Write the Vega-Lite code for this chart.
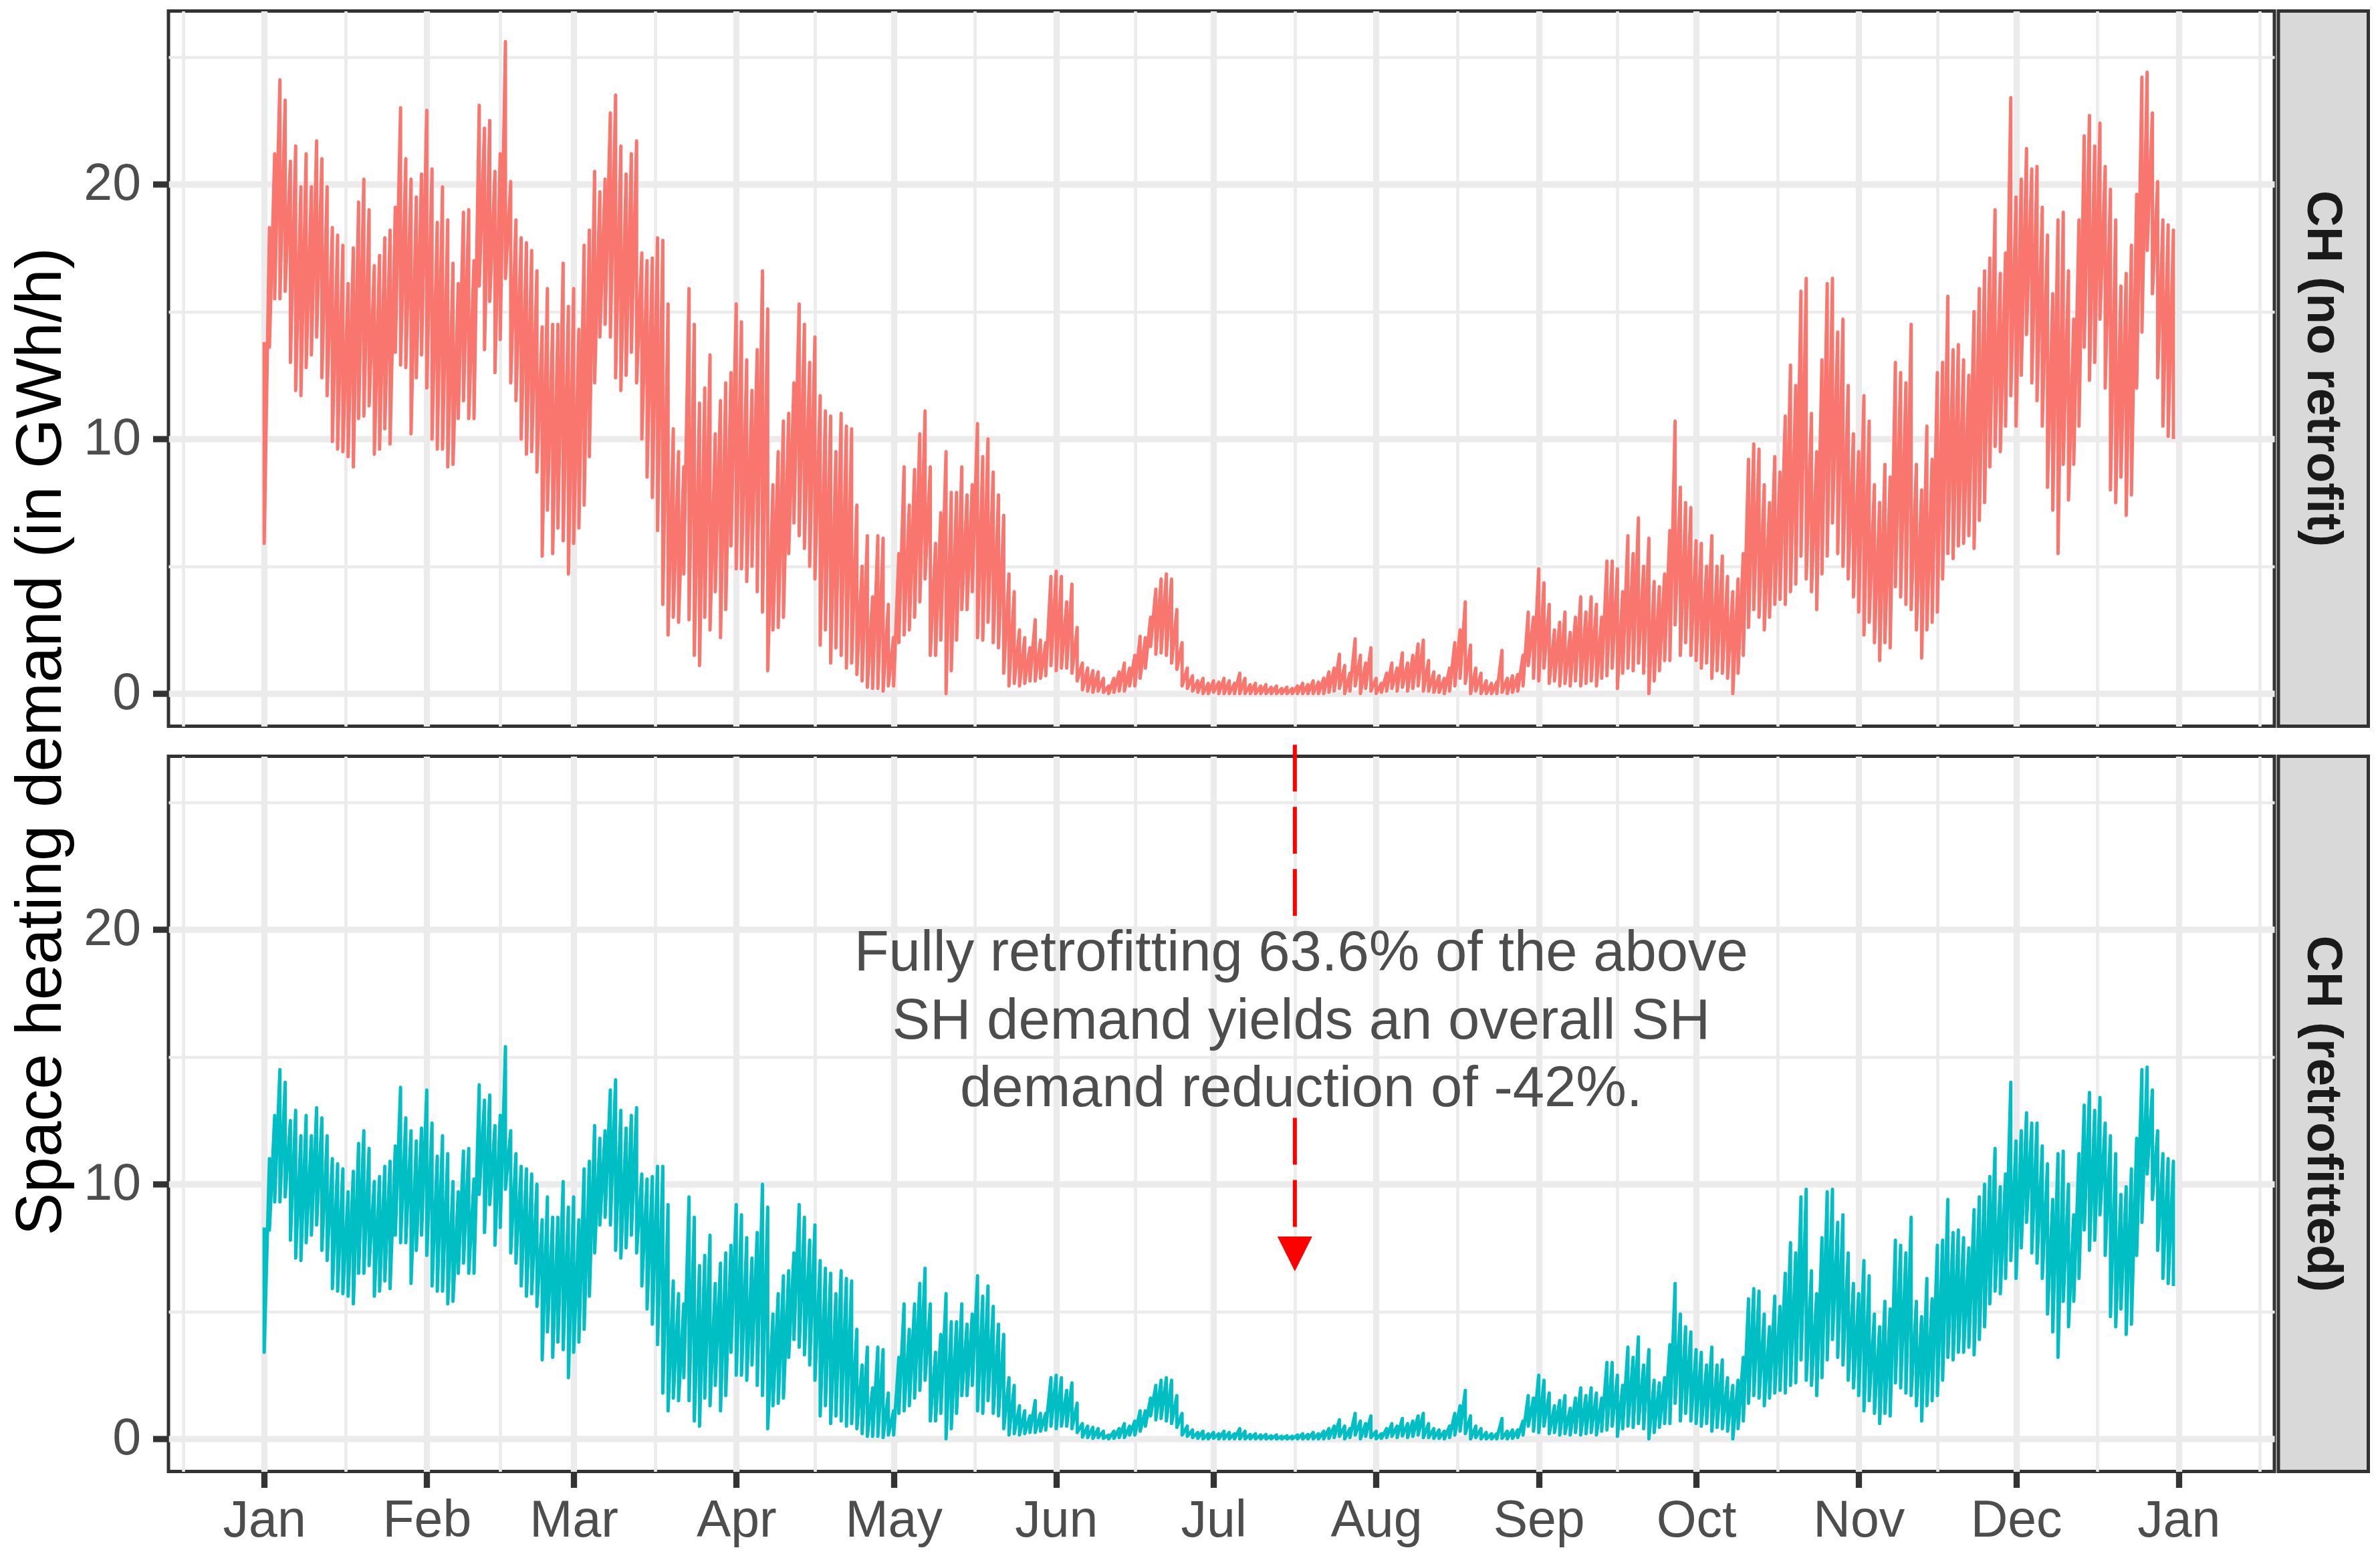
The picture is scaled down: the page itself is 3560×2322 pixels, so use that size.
{
  "$schema": "https://vega.github.io/schema/vega-lite/v6.json",
  "background": "white",
  "padding": {"left": 11, "top": 13.5, "right": 5, "bottom": 5},
  "config": {
    "font": "Liberation Sans",
    "view": {"stroke": null},
    "axis": {"labelFont": "Liberation Sans", "titleFont": "Liberation Sans"}
  },
  "datasets": {
    "sh": [
      {"d":0,"ah":13.8,"al":5.9,"bh":8.3,"bl":3.4},
      {"d":1,"ah":18.3,"al":13.6,"bh":11,"bl":8.2},
      {"d":2,"ah":21.2,"al":15.5,"bh":12.7,"bl":9.3},
      {"d":3,"ah":24.1,"al":15.5,"bh":14.5,"bl":9.3},
      {"d":4,"ah":23.3,"al":15.8,"bh":14,"bl":9.5},
      {"d":5,"ah":20.9,"al":13,"bh":12.5,"bl":7.8},
      {"d":6,"ah":21.5,"al":11.9,"bh":12.9,"bl":7.1},
      {"d":7,"ah":19.9,"al":11.7,"bh":11.9,"bl":7},
      {"d":8,"ah":21.2,"al":12.8,"bh":12.7,"bl":7.7},
      {"d":9,"ah":19.9,"al":13.3,"bh":11.9,"bl":8},
      {"d":10,"ah":21.7,"al":14,"bh":13,"bl":8.4},
      {"d":11,"ah":21,"al":12.4,"bh":12.6,"bl":7.4},
      {"d":12,"ah":19.9,"al":11.7,"bh":11.9,"bl":7},
      {"d":13,"ah":18.3,"al":9.9,"bh":11,"bl":5.9},
      {"d":14,"ah":18,"al":9.6,"bh":10.8,"bl":5.8},
      {"d":15,"ah":17.6,"al":9.5,"bh":10.6,"bl":5.7},
      {"d":16,"ah":16.1,"al":9.3,"bh":9.7,"bl":5.6},
      {"d":17,"ah":17.5,"al":8.9,"bh":10.5,"bl":5.3},
      {"d":18,"ah":19.3,"al":10.8,"bh":11.6,"bl":6.5},
      {"d":19,"ah":20.2,"al":10.9,"bh":12.1,"bl":6.5},
      {"d":20,"ah":19,"al":11.3,"bh":11.4,"bl":6.8},
      {"d":21,"ah":16.8,"al":9.4,"bh":10.1,"bl":5.6},
      {"d":22,"ah":17.2,"al":9.6,"bh":10.3,"bl":5.8},
      {"d":23,"ah":17.9,"al":10.4,"bh":10.7,"bl":6.2},
      {"d":24,"ah":18.2,"al":9.8,"bh":10.9,"bl":5.9},
      {"d":25,"ah":19.1,"al":13.4,"bh":11.5,"bl":8},
      {"d":26,"ah":23,"al":12.9,"bh":13.8,"bl":7.7},
      {"d":27,"ah":21,"al":12.8,"bh":12.6,"bl":7.7},
      {"d":28,"ah":20.2,"al":10.2,"bh":12.1,"bl":6.1},
      {"d":29,"ah":19.5,"al":12.4,"bh":11.7,"bl":7.4},
      {"d":30,"ah":20.4,"al":13.3,"bh":12.2,"bl":8},
      {"d":31,"ah":22.9,"al":12,"bh":13.7,"bl":7.2},
      {"d":32,"ah":20.6,"al":10,"bh":12.4,"bl":6},
      {"d":33,"ah":18.5,"al":9.6,"bh":11.1,"bl":5.8},
      {"d":34,"ah":19.9,"al":9.6,"bh":11.9,"bl":5.8},
      {"d":35,"ah":18.6,"al":8.9,"bh":11.2,"bl":5.3},
      {"d":36,"ah":16.9,"al":9,"bh":10.1,"bl":5.4},
      {"d":37,"ah":16.1,"al":10.8,"bh":9.7,"bl":6.5},
      {"d":38,"ah":18.9,"al":11.5,"bh":11.3,"bl":6.9},
      {"d":39,"ah":19,"al":10.8,"bh":11.4,"bl":6.5},
      {"d":40,"ah":17,"al":10.8,"bh":10.2,"bl":6.5},
      {"d":41,"ah":23.1,"al":16,"bh":13.9,"bl":9.6},
      {"d":42,"ah":22.2,"al":13.5,"bh":13.3,"bl":8.1},
      {"d":43,"ah":22.5,"al":15.4,"bh":13.5,"bl":9.2},
      {"d":44,"ah":20.5,"al":12.6,"bh":12.3,"bl":7.6},
      {"d":45,"ah":21.2,"al":13.9,"bh":12.7,"bl":8.3},
      {"d":46,"ah":25.6,"al":16.3,"bh":15.4,"bl":9.8},
      {"d":47,"ah":20.1,"al":12.2,"bh":12.1,"bl":7.3},
      {"d":48,"ah":18.6,"al":11.5,"bh":11.2,"bl":6.9},
      {"d":49,"ah":17.9,"al":10,"bh":10.7,"bl":6},
      {"d":50,"ah":17.7,"al":9.4,"bh":10.6,"bl":5.6},
      {"d":51,"ah":17.4,"al":9.5,"bh":10.4,"bl":5.7},
      {"d":52,"ah":16.6,"al":8.7,"bh":10,"bl":5.2},
      {"d":53,"ah":14.4,"al":5.4,"bh":8.6,"bl":3.1},
      {"d":54,"ah":15.9,"al":7.2,"bh":9.5,"bl":4.2},
      {"d":55,"ah":14.5,"al":5.5,"bh":8.7,"bl":3.2},
      {"d":56,"ah":14.5,"al":6.5,"bh":8.7,"bl":3.8},
      {"d":57,"ah":16.9,"al":6,"bh":10.1,"bl":3.5},
      {"d":58,"ah":15.2,"al":4.7,"bh":9.1,"bl":2.4},
      {"d":59,"ah":15.9,"al":5.9,"bh":9.5,"bl":3.4},
      {"d":60,"ah":14.3,"al":6.5,"bh":8.6,"bl":3.8},
      {"d":61,"ah":17.6,"al":7.4,"bh":10.6,"bl":4.3},
      {"d":62,"ah":18.2,"al":9.3,"bh":10.9,"bl":5.6},
      {"d":63,"ah":20.5,"al":12.2,"bh":12.3,"bl":7.3},
      {"d":64,"ah":19.7,"al":14,"bh":11.8,"bl":8.4},
      {"d":65,"ah":20.2,"al":14.5,"bh":12.1,"bl":8.7},
      {"d":66,"ah":22.8,"al":14,"bh":13.7,"bl":8.4},
      {"d":67,"ah":23.5,"al":12.4,"bh":14.1,"bl":7.4},
      {"d":68,"ah":21.5,"al":11.9,"bh":12.9,"bl":7.1},
      {"d":69,"ah":20.4,"al":12.5,"bh":12.2,"bl":7.5},
      {"d":70,"ah":21.2,"al":13.4,"bh":12.7,"bl":8},
      {"d":71,"ah":21.7,"al":12.2,"bh":13,"bl":7.3},
      {"d":72,"ah":17.3,"al":10,"bh":10.4,"bl":6},
      {"d":73,"ah":17,"al":8.5,"bh":10.2,"bl":5.1},
      {"d":74,"ah":17.1,"al":7.7,"bh":10.3,"bl":4.5},
      {"d":75,"ah":17.9,"al":6.4,"bh":10.7,"bl":3.7},
      {"d":76,"ah":17.8,"al":3.5,"bh":10.7,"bl":1.8},
      {"d":77,"ah":15.3,"al":2.3,"bh":9.2,"bl":1.1},
      {"d":78,"ah":10.4,"al":3,"bh":6.2,"bl":1.6},
      {"d":79,"ah":9.5,"al":2.8,"bh":5.7,"bl":1.5},
      {"d":80,"ah":8.9,"al":4.7,"bh":5.3,"bl":2.4},
      {"d":81,"ah":15.9,"al":2.9,"bh":9.5,"bl":1.5},
      {"d":82,"ah":14.5,"al":1.5,"bh":8.7,"bl":0.7},
      {"d":83,"ah":11.4,"al":1.1,"bh":6.8,"bl":0.5},
      {"d":84,"ah":12,"al":3,"bh":7.2,"bl":1.6},
      {"d":85,"ah":13.3,"al":2.5,"bh":8,"bl":1.3},
      {"d":86,"ah":10.2,"al":4,"bh":6.1,"bl":2.1},
      {"d":87,"ah":11.5,"al":2.2,"bh":6.9,"bl":1.1},
      {"d":88,"ah":12.2,"al":3.3,"bh":7.3,"bl":1.7},
      {"d":89,"ah":12.6,"al":5.8,"bh":7.6,"bl":3.4},
      {"d":90,"ah":15.3,"al":4.9,"bh":9.2,"bl":2.5},
      {"d":91,"ah":14.6,"al":4.9,"bh":8.8,"bl":2.5},
      {"d":92,"ah":13.1,"al":4.4,"bh":7.9,"bl":2.3},
      {"d":93,"ah":11.9,"al":5,"bh":7.1,"bl":2.9},
      {"d":94,"ah":13.5,"al":4,"bh":8.1,"bl":2.1},
      {"d":95,"ah":16.6,"al":3.2,"bh":10,"bl":1.7},
      {"d":96,"ah":15.1,"al":0.9,"bh":9.1,"bl":0.4},
      {"d":97,"ah":8.2,"al":2.5,"bh":4.9,"bl":1.3},
      {"d":98,"ah":9.5,"al":2.6,"bh":5.7,"bl":1.4},
      {"d":99,"ah":10.7,"al":3,"bh":6.4,"bl":1.6},
      {"d":100,"ah":11,"al":5.5,"bh":6.6,"bl":3.2},
      {"d":101,"ah":12.2,"al":6.7,"bh":7.3,"bl":3.9},
      {"d":102,"ah":15.3,"al":6.2,"bh":9.2,"bl":3.6},
      {"d":103,"ah":14.5,"al":5.7,"bh":8.7,"bl":3.3},
      {"d":104,"ah":13,"al":5,"bh":7.8,"bl":2.9},
      {"d":105,"ah":14,"al":4.5,"bh":8.4,"bl":2.3},
      {"d":106,"ah":11.7,"al":1.9,"bh":7,"bl":0.9},
      {"d":107,"ah":11.1,"al":2.5,"bh":6.7,"bl":1.3},
      {"d":108,"ah":10.9,"al":1.2,"bh":6.5,"bl":0.6},
      {"d":109,"ah":9.5,"al":1.8,"bh":5.7,"bl":0.9},
      {"d":110,"ah":11,"al":1.5,"bh":6.6,"bl":0.7},
      {"d":111,"ah":10.5,"al":1,"bh":6.3,"bl":0.5},
      {"d":112,"ah":10.4,"al":1.2,"bh":6.2,"bl":0.6},
      {"d":113,"ah":7.4,"al":0.75,"bh":4.3,"bl":0.4},
      {"d":114,"ah":5,"al":0.5,"bh":2.9,"bl":0.2},
      {"d":115,"ah":6.2,"al":0.25,"bh":3.6,"bl":0.1},
      {"d":116,"ah":3.8,"al":0.2,"bh":2,"bl":0.1},
      {"d":117,"ah":6.2,"al":0.2,"bh":3.6,"bl":0.1},
      {"d":118,"ah":6.1,"al":0.1,"bh":3.5,"bl":0.05},
      {"d":119,"ah":3.5,"al":0.3,"bh":1.8,"bl":0.15},
      {"d":120,"ah":2.2,"al":0.3,"bh":1.1,"bl":0.15},
      {"d":121,"ah":5.5,"al":2,"bh":3.2,"bl":1},
      {"d":122,"ah":8.9,"al":2.3,"bh":5.3,"bl":1.1},
      {"d":123,"ah":7.4,"al":2.5,"bh":4.3,"bl":1.3},
      {"d":124,"ah":8.8,"al":3,"bh":5.3,"bl":1.6},
      {"d":125,"ah":10.2,"al":3.6,"bh":6.1,"bl":1.9},
      {"d":126,"ah":11.1,"al":4.5,"bh":6.7,"bl":2.3},
      {"d":127,"ah":8.9,"al":1.5,"bh":5.3,"bl":0.7},
      {"d":128,"ah":5.9,"al":1.5,"bh":3.4,"bl":0.7},
      {"d":129,"ah":7.1,"al":2.1,"bh":4.1,"bl":1},
      {"d":130,"ah":9.5,"al":0,"bh":5.7,"bl":0},
      {"d":131,"ah":7.9,"al":0.9,"bh":4.6,"bl":0.4},
      {"d":132,"ah":7.9,"al":2.1,"bh":4.6,"bl":1},
      {"d":133,"ah":8.9,"al":3.3,"bh":5.3,"bl":1.7},
      {"d":134,"ah":7.8,"al":3.3,"bh":4.5,"bl":1.7},
      {"d":135,"ah":8.2,"al":4,"bh":4.9,"bl":2.1},
      {"d":136,"ah":10.6,"al":2.2,"bh":6.4,"bl":1.1},
      {"d":137,"ah":9.3,"al":2.1,"bh":5.6,"bl":1},
      {"d":138,"ah":10,"al":2.8,"bh":6,"bl":1.5},
      {"d":139,"ah":8.7,"al":2,"bh":5.2,"bl":1},
      {"d":140,"ah":7.8,"al":1.8,"bh":4.5,"bl":0.9},
      {"d":141,"ah":7,"al":0.8,"bh":4.1,"bl":0.4},
      {"d":142,"ah":4.7,"al":0.3,"bh":2.4,"bl":0.15},
      {"d":143,"ah":4,"al":0.4,"bh":2.1,"bl":0.2},
      {"d":144,"ah":2.5,"al":0.3,"bh":1.3,"bl":0.15},
      {"d":145,"ah":2.2,"al":0.4,"bh":1.1,"bl":0.2},
      {"d":146,"ah":1.8,"al":0.5,"bh":0.9,"bl":0.25},
      {"d":147,"ah":2.9,"al":0.5,"bh":1.5,"bl":0.25},
      {"d":148,"ah":2.1,"al":0.6,"bh":1,"bl":0.3},
      {"d":149,"ah":2,"al":0.7,"bh":1,"bl":0.35},
      {"d":150,"ah":4.6,"al":1.1,"bh":2.4,"bl":0.5},
      {"d":151,"ah":4.8,"al":0.9,"bh":2.5,"bl":0.4},
      {"d":152,"ah":4.6,"al":1,"bh":2.4,"bl":0.5},
      {"d":153,"ah":3.6,"al":1,"bh":1.9,"bl":0.5},
      {"d":154,"ah":4.3,"al":0.8,"bh":2.2,"bl":0.4},
      {"d":155,"ah":2.6,"al":0.5,"bh":1.4,"bl":0.25},
      {"d":156,"ah":1.2,"al":0.15,"bh":0.6,"bl":0.07},
      {"d":157,"ah":1,"al":0.1,"bh":0.5,"bl":0.05},
      {"d":158,"ah":0.9,"al":0.05,"bh":0.45,"bl":0.02},
      {"d":159,"ah":0.85,"al":0.1,"bh":0.4,"bl":0.05},
      {"d":160,"ah":0.6,"al":0.05,"bh":0.3,"bl":0.02},
      {"d":161,"ah":0.3,"al":0,"bh":0.15,"bl":0},
      {"d":162,"ah":0.6,"al":0.05,"bh":0.3,"bl":0.02},
      {"d":163,"ah":0.85,"al":0.1,"bh":0.4,"bl":0.05},
      {"d":164,"ah":1.2,"al":0.1,"bh":0.6,"bl":0.05},
      {"d":165,"ah":1,"al":0.3,"bh":0.5,"bl":0.15},
      {"d":166,"ah":1.5,"al":0.3,"bh":0.7,"bl":0.15},
      {"d":167,"ah":2.25,"al":0.6,"bh":1.1,"bl":0.3},
      {"d":168,"ah":2.2,"al":1,"bh":1.1,"bl":0.5},
      {"d":169,"ah":3,"al":1.85,"bh":1.6,"bl":0.9},
      {"d":170,"ah":4.1,"al":1.55,"bh":2.1,"bl":0.75},
      {"d":171,"ah":4.5,"al":1.6,"bh":2.3,"bl":0.8},
      {"d":172,"ah":4.7,"al":1.5,"bh":2.4,"bl":0.7},
      {"d":173,"ah":4.5,"al":1.2,"bh":2.3,"bl":0.6},
      {"d":174,"ah":3.3,"al":0.95,"bh":1.7,"bl":0.45},
      {"d":175,"ah":2,"al":0.3,"bh":1,"bl":0.15},
      {"d":176,"ah":1,"al":0.2,"bh":0.5,"bl":0.1},
      {"d":177,"ah":0.7,"al":0.1,"bh":0.35,"bl":0.05},
      {"d":178,"ah":0.5,"al":0.05,"bh":0.25,"bl":0.02},
      {"d":179,"ah":0.6,"al":0,"bh":0.3,"bl":0},
      {"d":180,"ah":0.4,"al":0,"bh":0.2,"bl":0},
      {"d":181,"ah":0.5,"al":0.05,"bh":0.25,"bl":0.02},
      {"d":182,"ah":0.45,"al":0,"bh":0.2,"bl":0},
      {"d":183,"ah":0.6,"al":0,"bh":0.3,"bl":0},
      {"d":184,"ah":0.5,"al":0,"bh":0.25,"bl":0},
      {"d":185,"ah":0.4,"al":0,"bh":0.2,"bl":0},
      {"d":186,"ah":0.8,"al":0,"bh":0.4,"bl":0},
      {"d":187,"ah":0.6,"al":0,"bh":0.3,"bl":0},
      {"d":188,"ah":0.35,"al":0,"bh":0.17,"bl":0},
      {"d":189,"ah":0.4,"al":0,"bh":0.2,"bl":0},
      {"d":190,"ah":0.3,"al":0,"bh":0.15,"bl":0},
      {"d":191,"ah":0.35,"al":0,"bh":0.17,"bl":0},
      {"d":192,"ah":0.25,"al":0,"bh":0.12,"bl":0},
      {"d":193,"ah":0.3,"al":0,"bh":0.15,"bl":0},
      {"d":194,"ah":0.2,"al":0,"bh":0.1,"bl":0},
      {"d":195,"ah":0.25,"al":0,"bh":0.12,"bl":0},
      {"d":196,"ah":0.2,"al":0,"bh":0.1,"bl":0},
      {"d":197,"ah":0.3,"al":0,"bh":0.15,"bl":0},
      {"d":198,"ah":0.4,"al":0,"bh":0.2,"bl":0},
      {"d":199,"ah":0.35,"al":0,"bh":0.17,"bl":0},
      {"d":200,"ah":0.5,"al":0,"bh":0.25,"bl":0},
      {"d":201,"ah":0.45,"al":0,"bh":0.2,"bl":0},
      {"d":202,"ah":0.6,"al":0,"bh":0.3,"bl":0},
      {"d":203,"ah":0.85,"al":0.05,"bh":0.4,"bl":0.02},
      {"d":204,"ah":1,"al":0.1,"bh":0.5,"bl":0.05},
      {"d":205,"ah":1.55,"al":0.2,"bh":0.75,"bl":0.1},
      {"d":206,"ah":1.1,"al":0,"bh":0.5,"bl":0},
      {"d":207,"ah":0.8,"al":0.1,"bh":0.4,"bl":0.05},
      {"d":208,"ah":2.15,"al":0.3,"bh":1,"bl":0.15},
      {"d":209,"ah":1.5,"al":0,"bh":0.7,"bl":0},
      {"d":210,"ah":1.2,"al":0.2,"bh":0.6,"bl":0.1},
      {"d":211,"ah":1.8,"al":0.1,"bh":0.9,"bl":0.05},
      {"d":212,"ah":0.6,"al":0,"bh":0.3,"bl":0},
      {"d":213,"ah":0.4,"al":0.05,"bh":0.2,"bl":0.02},
      {"d":214,"ah":0.8,"al":0.1,"bh":0.4,"bl":0.05},
      {"d":215,"ah":1.2,"al":0.2,"bh":0.6,"bl":0.1},
      {"d":216,"ah":1,"al":0.1,"bh":0.5,"bl":0.05},
      {"d":217,"ah":1.6,"al":0.25,"bh":0.8,"bl":0.12},
      {"d":218,"ah":1.2,"al":0.1,"bh":0.6,"bl":0.05},
      {"d":219,"ah":1.5,"al":0.2,"bh":0.7,"bl":0.1},
      {"d":220,"ah":1.95,"al":0.3,"bh":0.9,"bl":0.15},
      {"d":221,"ah":2.1,"al":0.1,"bh":1,"bl":0.05},
      {"d":222,"ah":1.3,"al":0.1,"bh":0.6,"bl":0.05},
      {"d":223,"ah":0.85,"al":0.05,"bh":0.4,"bl":0.02},
      {"d":224,"ah":0.7,"al":0.05,"bh":0.35,"bl":0.02},
      {"d":225,"ah":0.6,"al":0,"bh":0.3,"bl":0},
      {"d":226,"ah":1,"al":0.1,"bh":0.5,"bl":0.05},
      {"d":227,"ah":2,"al":0.3,"bh":1,"bl":0.15},
      {"d":228,"ah":2.5,"al":0.6,"bh":1.3,"bl":0.3},
      {"d":229,"ah":3.6,"al":0.4,"bh":1.9,"bl":0.2},
      {"d":230,"ah":1.9,"al":0,"bh":0.9,"bl":0},
      {"d":231,"ah":1,"al":0.1,"bh":0.5,"bl":0.05},
      {"d":232,"ah":0.8,"al":0,"bh":0.4,"bl":0},
      {"d":233,"ah":0.5,"al":0,"bh":0.25,"bl":0},
      {"d":234,"ah":0.4,"al":0,"bh":0.2,"bl":0},
      {"d":235,"ah":0.45,"al":0,"bh":0.2,"bl":0},
      {"d":236,"ah":1.7,"al":0.05,"bh":0.8,"bl":0.02},
      {"d":237,"ah":0.6,"al":0,"bh":0.3,"bl":0},
      {"d":238,"ah":0.7,"al":0.05,"bh":0.35,"bl":0.02},
      {"d":239,"ah":0.75,"al":0.1,"bh":0.35,"bl":0.05},
      {"d":240,"ah":1.5,"al":0.3,"bh":0.7,"bl":0.15},
      {"d":241,"ah":3.2,"al":1.1,"bh":1.7,"bl":0.5},
      {"d":242,"ah":3,"al":0.6,"bh":1.6,"bl":0.3},
      {"d":243,"ah":4.9,"al":0.5,"bh":2.5,"bl":0.25},
      {"d":244,"ah":4.35,"al":1,"bh":2.3,"bl":0.5},
      {"d":245,"ah":3.5,"al":0.4,"bh":1.8,"bl":0.2},
      {"d":246,"ah":2.5,"al":0.5,"bh":1.3,"bl":0.25},
      {"d":247,"ah":2.8,"al":0.3,"bh":1.5,"bl":0.15},
      {"d":248,"ah":3.2,"al":0.4,"bh":1.7,"bl":0.2},
      {"d":249,"ah":2.4,"al":0.3,"bh":1.2,"bl":0.15},
      {"d":250,"ah":3,"al":0.5,"bh":1.6,"bl":0.25},
      {"d":251,"ah":3.8,"al":0.3,"bh":2,"bl":0.15},
      {"d":252,"ah":3.2,"al":0.4,"bh":1.7,"bl":0.2},
      {"d":253,"ah":3.8,"al":0.5,"bh":2,"bl":0.25},
      {"d":254,"ah":3.5,"al":0.3,"bh":1.8,"bl":0.15},
      {"d":255,"ah":3,"al":0.6,"bh":1.6,"bl":0.3},
      {"d":256,"ah":5.2,"al":0.7,"bh":3,"bl":0.35},
      {"d":257,"ah":5.2,"al":1,"bh":3,"bl":0.5},
      {"d":258,"ah":4.9,"al":0.2,"bh":2.5,"bl":0.1},
      {"d":259,"ah":4,"al":0.8,"bh":2.1,"bl":0.4},
      {"d":260,"ah":6.2,"al":1,"bh":3.6,"bl":0.5},
      {"d":261,"ah":5.5,"al":0.9,"bh":3.2,"bl":0.45},
      {"d":262,"ah":6.9,"al":1.2,"bh":4,"bl":0.6},
      {"d":263,"ah":5,"al":0.8,"bh":2.9,"bl":0.4},
      {"d":264,"ah":6.1,"al":0,"bh":3.5,"bl":0},
      {"d":265,"ah":4.4,"al":0.5,"bh":2.3,"bl":0.25},
      {"d":266,"ah":4.2,"al":0.9,"bh":2.2,"bl":0.45},
      {"d":267,"ah":4.7,"al":1.3,"bh":2.4,"bl":0.6},
      {"d":268,"ah":6.4,"al":1.3,"bh":3.7,"bl":0.6},
      {"d":269,"ah":10.7,"al":2.7,"bh":6.1,"bl":1.4},
      {"d":270,"ah":8.1,"al":1.5,"bh":4.9,"bl":0.7},
      {"d":271,"ah":7.5,"al":2,"bh":4.4,"bl":1},
      {"d":272,"ah":7.3,"al":1.5,"bh":4.2,"bl":0.7},
      {"d":273,"ah":6,"al":1.3,"bh":3.5,"bl":0.6},
      {"d":274,"ah":5.9,"al":1,"bh":3.4,"bl":0.5},
      {"d":275,"ah":5,"al":1.2,"bh":2.9,"bl":0.6},
      {"d":276,"ah":6.2,"al":0.6,"bh":3.6,"bl":0.3},
      {"d":277,"ah":5,"al":0.9,"bh":2.9,"bl":0.45},
      {"d":278,"ah":5.4,"al":0.8,"bh":3.1,"bl":0.4},
      {"d":279,"ah":4.6,"al":0.6,"bh":2.4,"bl":0.3},
      {"d":280,"ah":4,"al":0,"bh":2.1,"bl":0},
      {"d":281,"ah":4.5,"al":0.8,"bh":2.3,"bl":0.4},
      {"d":282,"ah":5.5,"al":1.5,"bh":3.2,"bl":0.7},
      {"d":283,"ah":9.2,"al":2.6,"bh":5.5,"bl":1.4},
      {"d":284,"ah":9.8,"al":3.3,"bh":5.9,"bl":1.7},
      {"d":285,"ah":9.6,"al":3,"bh":5.8,"bl":1.6},
      {"d":286,"ah":8.2,"al":2.5,"bh":4.9,"bl":1.3},
      {"d":287,"ah":7.5,"al":3,"bh":4.4,"bl":1.6},
      {"d":288,"ah":9.3,"al":3.5,"bh":5.6,"bl":1.8},
      {"d":289,"ah":8.7,"al":3.7,"bh":5.2,"bl":1.9},
      {"d":290,"ah":10.9,"al":3.5,"bh":6.5,"bl":1.8},
      {"d":291,"ah":12.9,"al":4,"bh":7.7,"bl":2.1},
      {"d":292,"ah":12.1,"al":4.3,"bh":7.3,"bl":2.2},
      {"d":293,"ah":15.8,"al":5.4,"bh":9.5,"bl":3.1},
      {"d":294,"ah":16.3,"al":4.5,"bh":9.8,"bl":2.3},
      {"d":295,"ah":11,"al":4,"bh":6.6,"bl":2.1},
      {"d":296,"ah":9.5,"al":3.3,"bh":5.7,"bl":1.7},
      {"d":297,"ah":13.1,"al":4.7,"bh":7.9,"bl":2.4},
      {"d":298,"ah":16.1,"al":5.4,"bh":9.7,"bl":3.1},
      {"d":299,"ah":16.3,"al":6.7,"bh":9.8,"bl":3.9},
      {"d":300,"ah":14.2,"al":5.5,"bh":8.5,"bl":3.2},
      {"d":301,"ah":14.7,"al":5,"bh":8.8,"bl":2.9},
      {"d":302,"ah":12.1,"al":4.5,"bh":7.3,"bl":2.3},
      {"d":303,"ah":10.2,"al":3.8,"bh":6.1,"bl":2},
      {"d":304,"ah":9.5,"al":3.2,"bh":5.7,"bl":1.7},
      {"d":305,"ah":11.7,"al":2.3,"bh":7,"bl":1.1},
      {"d":306,"ah":10.7,"al":2.8,"bh":6.4,"bl":1.5},
      {"d":307,"ah":8.2,"al":2,"bh":4.9,"bl":1},
      {"d":308,"ah":7.5,"al":1.3,"bh":4.4,"bl":0.6},
      {"d":309,"ah":9,"al":2,"bh":5.4,"bl":1},
      {"d":310,"ah":8.5,"al":1.8,"bh":5.1,"bl":0.9},
      {"d":311,"ah":13,"al":4.2,"bh":7.8,"bl":2.2},
      {"d":312,"ah":12.6,"al":3.8,"bh":7.6,"bl":2},
      {"d":313,"ah":12.2,"al":3.5,"bh":7.3,"bl":1.8},
      {"d":314,"ah":14.5,"al":3.3,"bh":8.7,"bl":1.7},
      {"d":315,"ah":9,"al":2.5,"bh":5.4,"bl":1.3},
      {"d":316,"ah":8,"al":1.4,"bh":4.8,"bl":0.7},
      {"d":317,"ah":10.5,"al":2.5,"bh":6.3,"bl":1.3},
      {"d":318,"ah":9.2,"al":2.8,"bh":5.5,"bl":1.5},
      {"d":319,"ah":12.6,"al":3.2,"bh":7.6,"bl":1.7},
      {"d":320,"ah":13,"al":4.5,"bh":7.8,"bl":2.3},
      {"d":321,"ah":15.6,"al":5.5,"bh":9.4,"bl":3.2},
      {"d":322,"ah":13.5,"al":5.3,"bh":8.1,"bl":3.1},
      {"d":323,"ah":13.7,"al":5.8,"bh":8.2,"bl":3.4},
      {"d":324,"ah":13.1,"al":5.9,"bh":7.9,"bl":3.4},
      {"d":325,"ah":12.5,"al":6.2,"bh":7.5,"bl":3.6},
      {"d":326,"ah":15,"al":5.7,"bh":9,"bl":3.3},
      {"d":327,"ah":15.9,"al":6.8,"bh":9.5,"bl":3.9},
      {"d":328,"ah":16.6,"al":7.5,"bh":10,"bl":4.4},
      {"d":329,"ah":17.1,"al":8.9,"bh":10.3,"bl":5.3},
      {"d":330,"ah":19,"al":9.7,"bh":11.4,"bl":5.8},
      {"d":331,"ah":16.5,"al":9.5,"bh":9.9,"bl":5.7},
      {"d":332,"ah":17.3,"al":10.5,"bh":10.4,"bl":6.3},
      {"d":333,"ah":23.4,"al":11.7,"bh":14,"bl":7},
      {"d":334,"ah":19.5,"al":10.5,"bh":11.7,"bl":6.3},
      {"d":335,"ah":20.2,"al":12.5,"bh":12.1,"bl":7.5},
      {"d":336,"ah":21.4,"al":14.1,"bh":12.8,"bl":8.5},
      {"d":337,"ah":20.6,"al":12.2,"bh":12.4,"bl":7.3},
      {"d":338,"ah":20.7,"al":11.5,"bh":12.4,"bl":6.9},
      {"d":339,"ah":19.1,"al":10.5,"bh":11.5,"bl":6.3},
      {"d":340,"ah":18,"al":8.1,"bh":10.8,"bl":4.9},
      {"d":341,"ah":15.7,"al":7.2,"bh":9.4,"bl":4.2},
      {"d":342,"ah":18.6,"al":5.5,"bh":11.2,"bl":3.2},
      {"d":343,"ah":18.9,"al":9,"bh":11.3,"bl":5.4},
      {"d":344,"ah":16.6,"al":7.6,"bh":10,"bl":4.4},
      {"d":345,"ah":14.7,"al":9,"bh":8.8,"bl":5.4},
      {"d":346,"ah":18.6,"al":10.5,"bh":11.2,"bl":6.3},
      {"d":347,"ah":21.9,"al":13.6,"bh":13.1,"bl":8.2},
      {"d":348,"ah":22.7,"al":12.3,"bh":13.6,"bl":7.4},
      {"d":349,"ah":21.5,"al":13,"bh":12.9,"bl":7.8},
      {"d":350,"ah":22.4,"al":14.7,"bh":13.4,"bl":8.8},
      {"d":351,"ah":20.7,"al":12,"bh":12.4,"bl":7.2},
      {"d":352,"ah":19.8,"al":8,"bh":11.9,"bl":4.8},
      {"d":353,"ah":18.6,"al":7.5,"bh":11.2,"bl":4.4},
      {"d":354,"ah":16,"al":8.5,"bh":9.6,"bl":5.1},
      {"d":355,"ah":16.5,"al":7,"bh":9.9,"bl":4.1},
      {"d":356,"ah":17.6,"al":7.8,"bh":10.6,"bl":4.5},
      {"d":357,"ah":19.6,"al":12,"bh":11.8,"bl":7.2},
      {"d":358,"ah":24.2,"al":14.2,"bh":14.5,"bl":8.5},
      {"d":359,"ah":24.4,"al":17.4,"bh":14.6,"bl":10.4},
      {"d":360,"ah":22.8,"al":15.7,"bh":13.7,"bl":9.4},
      {"d":361,"ah":20.1,"al":12.4,"bh":12.1,"bl":7.4},
      {"d":362,"ah":18.6,"al":10.5,"bh":11.2,"bl":6.3},
      {"d":363,"ah":18.4,"al":10.1,"bh":11,"bl":6.1},
      {"d":364,"ah":18.2,"al":10,"bh":10.9,"bl":6}
    ],
    "arrow": [
      {"d": 196.5, "v": 27.25, "v2": 20.53},
      {"d": 196.5, "v": 12.6, "v2": 7.3}
    ],
    "head": [{"d": 196.5, "v": 7.26}],
    "label": [{"d": 197.7, "v": 18.38, "text": ["Fully retrofitting 63.6% of the above", "SH demand yields an overall SH", "demand reduction of -42%."]}]
  },
  "hconcat": [
    {
      "bounds": "flush",
      "spacing": 45,
      "vconcat": [
        {
          "width": 3150,
          "height": 1070,
          "view": {"stroke": "#333333", "strokeWidth": 5},
          "data": {"name": "sh"},
          "transform": [{"fold": ["ah", "al"], "as": ["k", "v"]}],
          "mark": {"type": "line", "color": "#F8766D", "strokeWidth": 5, "strokeJoin": "round"},
          "encoding": {
            "x": {
              "field": "d",
              "type": "quantitative",
              "scale": {"domain": [-18.25, 383.25], "nice": false, "zero": false},
              "axis": {
                "title": null,
                "values": [-15.5, 0, 15.5, 31, 45, 59, 74.5, 90, 105, 120, 135.5, 151, 166, 181, 196.5, 212, 227.5, 243, 258, 273, 288.5, 304, 319, 334, 349.5, 365, 380.5],
                "labels": false,
                "ticks": false,
                "domain": false,
                "grid": true,
                "gridColor": "#ebebeb",
                "gridWidth": {"condition": {"test": "indexof([0,31,59,90,120,151,181,212,243,273,304,334,365], datum.value) >= 0", "value": 9.3}, "value": 4.65}
              }
            },
            "y": {
              "field": "v",
              "type": "quantitative",
              "scale": {"domain": [-1.28, 26.8], "nice": false, "zero": false},
              "axis": {
                "title": null,
                "values": [0, 5, 10, 15, 20, 25],
                "domain": false,
                "grid": true,
                "gridColor": "#ebebeb",
                "gridWidth": {"condition": {"test": "datum.value % 10 == 0", "value": 9.3}, "value": 4.65},
                "labelExpr": "datum.value % 10 == 0 ? datum.label : ''",
                "labelFontSize": 77,
                "labelColor": "#4d4d4d",
                "labelPadding": 18,
                "labelOverlap": false,
                "tickSize": 23.5,
                "tickWidth": 9.3,
                "tickColor": "#333333",
                "tickOpacity": {"condition": {"test": "datum.value % 10 == 0", "value": 1}, "value": 0}
              }
            }
          }
        },
        {
          "width": 3150,
          "height": 1070,
          "view": {"stroke": "#333333", "strokeWidth": 5},
          "encoding": {
            "x": {
              "field": "d",
              "type": "quantitative",
              "scale": {"domain": [-18.25, 383.25], "nice": false, "zero": false},
              "axis": {
                "title": null,
                "values": [-15.5, 0, 15.5, 31, 45, 59, 74.5, 90, 105, 120, 135.5, 151, 166, 181, 196.5, 212, 227.5, 243, 258, 273, 288.5, 304, 319, 334, 349.5, 365, 380.5],
                "labelExpr": "indexof([0,31,59,90,120,151,181,212,243,273,304,334,365], datum.value) >= 0 ? ['Jan','Feb','Mar','Apr','May','Jun','Jul','Aug','Sep','Oct','Nov','Dec','Jan'][indexof([0,31,59,90,120,151,181,212,243,273,304,334,365], datum.value)] : ''",
                "labelFontSize": 77,
                "labelColor": "#4d4d4d",
                "labelPadding": 12,
                "labelOverlap": false,
                "labelFlush": false,
                "domain": false,
                "grid": true,
                "gridColor": "#ebebeb",
                "gridWidth": {"condition": {"test": "indexof([0,31,59,90,120,151,181,212,243,273,304,334,365], datum.value) >= 0", "value": 9.3}, "value": 4.65},
                "tickSize": 24,
                "tickWidth": 9.3,
                "tickColor": "#333333",
                "tickOpacity": {"condition": {"test": "indexof([0,31,59,90,120,151,181,212,243,273,304,334,365], datum.value) >= 0", "value": 1}, "value": 0}
              }
            },
            "y": {
              "field": "v",
              "type": "quantitative",
              "scale": {"domain": [-1.28, 26.8], "nice": false, "zero": false},
              "axis": {
                "title": "Space heating demand (in GWh/h)",
                "titleFontSize": 96,
                "titleFontWeight": "normal",
                "titleColor": "#000000",
                "titlePadding": 14,
                "titleY": -22.6,
                "values": [0, 5, 10, 15, 20, 25],
                "domain": false,
                "grid": true,
                "gridColor": "#ebebeb",
                "gridWidth": {"condition": {"test": "datum.value % 10 == 0", "value": 9.3}, "value": 4.65},
                "labelExpr": "datum.value % 10 == 0 ? datum.label : ''",
                "labelFontSize": 77,
                "labelColor": "#4d4d4d",
                "labelPadding": 18,
                "labelOverlap": false,
                "tickSize": 23.5,
                "tickWidth": 9.3,
                "tickColor": "#333333",
                "tickOpacity": {"condition": {"test": "datum.value % 10 == 0", "value": 1}, "value": 0}
              }
            }
          },
          "layer": [
            {
              "data": {"name": "sh"},
              "transform": [{"fold": ["bh", "bl"], "as": ["k", "v"]}],
              "mark": {"type": "line", "color": "#00BFC4", "strokeWidth": 5, "strokeJoin": "round"},
              "encoding": {}
            },
            {
              "data": {"name": "arrow"},
              "mark": {"type": "rule", "color": "#ff0000", "strokeWidth": 6, "strokeDash": [70, 23]},
              "encoding": {"y2": {"field": "v2"}}
            },
            {
              "data": {"name": "head"},
              "mark": {"type": "point", "shape": "M-1,-1L1,-1L0,1Z", "size": 2704, "filled": true, "color": "#ff0000", "opacity": 1, "strokeWidth": 0}
            },
            {
              "data": {"name": "label"},
              "mark": {"type": "text", "fontSize": 85, "color": "#4d4d4d", "align": "center", "baseline": "alphabetic", "lineHeight": 101.5},
              "encoding": {"text": {"field": "text", "type": "nominal"}}
            }
          ]
        }
      ]
    },
    {
      "bounds": "flush",
      "spacing": 45,
      "vconcat": [
        {
          "width": 134.5,
          "height": 1070,
          "view": {"fill": "#d9d9d9", "stroke": "#333333", "strokeWidth": 5},
          "data": {"values": [{"panel": "CH (no retrofit)"}]},
          "mark": {"type": "text", "angle": 90, "fontSize": 75, "fontWeight": "bold", "color": "#1a1a1a"},
          "encoding": {"text": {"field": "panel", "type": "nominal"}}
        },
        {
          "width": 134.5,
          "height": 1070,
          "view": {"fill": "#d9d9d9", "stroke": "#333333", "strokeWidth": 5},
          "data": {"values": [{"panel": "CH (retrofitted)"}]},
          "mark": {"type": "text", "angle": 90, "fontSize": 75, "fontWeight": "bold", "color": "#1a1a1a"},
          "encoding": {"text": {"field": "panel", "type": "nominal"}}
        }
      ]
    }
  ],
  "spacing": 0
}
